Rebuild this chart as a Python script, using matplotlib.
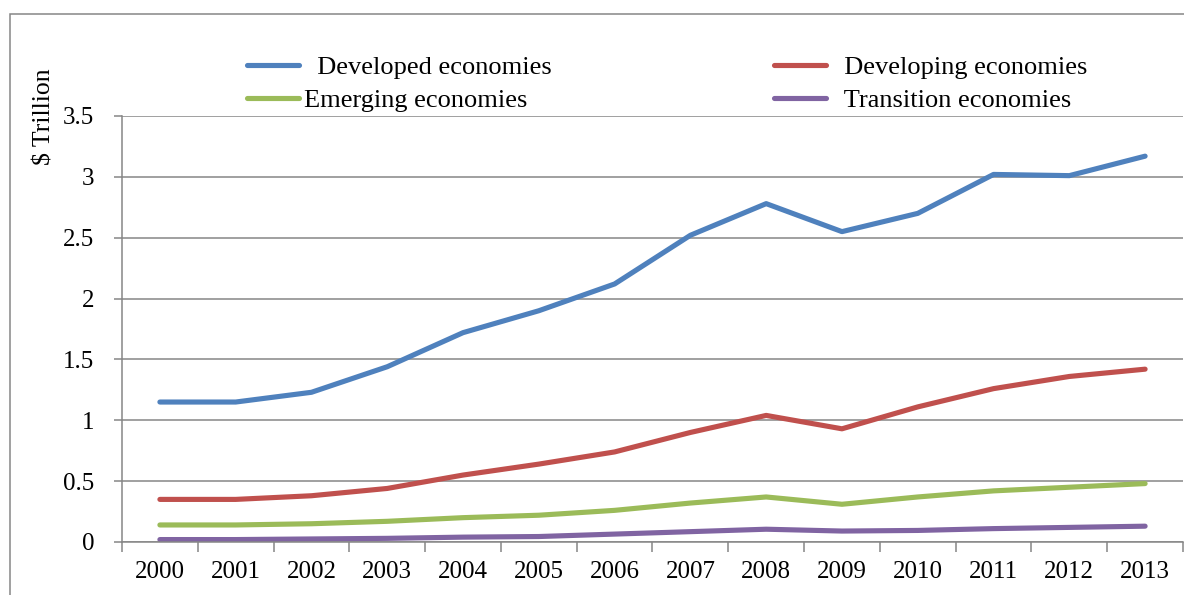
import matplotlib.pyplot as plt
from matplotlib.patches import Rectangle

years = [str(y) for y in range(2000, 2014)]
developed = [1.15, 1.15, 1.23, 1.44, 1.72, 1.90, 2.12, 2.52, 2.78, 2.55, 2.70, 3.02, 3.01, 3.17]
developing = [0.35, 0.35, 0.38, 0.44, 0.55, 0.64, 0.74, 0.90, 1.04, 0.93, 1.11, 1.26, 1.36, 1.42]
emerging = [0.14, 0.14, 0.15, 0.17, 0.20, 0.22, 0.26, 0.32, 0.37, 0.31, 0.37, 0.42, 0.45, 0.48]
transition = [0.02, 0.02, 0.025, 0.03, 0.04, 0.045, 0.065, 0.085, 0.105, 0.09, 0.095, 0.11, 0.12, 0.13]

plt.rcParams['font.family'] = ['Liberation Serif', 'DejaVu Serif']

fig = plt.figure(figsize=(11.84, 5.95), dpi=100)
ax = fig.add_axes([122 / 1184, 53 / 595, 1061 / 1184, 426 / 595])

x = range(len(years))
lw = 3.7
h1, = ax.plot(x, developed, color='#4F81BD', lw=lw, solid_capstyle='round', solid_joinstyle='round')
h2, = ax.plot(x, developing, color='#C0504D', lw=lw, solid_capstyle='round', solid_joinstyle='round')
h3, = ax.plot(x, emerging, color='#9BBB59', lw=lw, solid_capstyle='round', solid_joinstyle='round')
h4, = ax.plot(x, transition, color='#8064A2', lw=lw, solid_capstyle='round', solid_joinstyle='round')

gray = '#868686'
ax.set_xlim(-0.5, len(years) - 0.5)
ax.set_ylim(0, 3.5)
ax.set_yticks([0, 0.5, 1, 1.5, 2, 2.5, 3, 3.5])
ax.set_yticklabels(['0', '0.5', '1', '1.5', '2', '2.5', '3', '3.5'])
ax.set_xticks(list(x))
ax.set_xticklabels(years)
ax.set_xticks([i - 0.5 for i in range(len(years) + 1)], minor=True)
ax.tick_params(axis='x', which='major', length=0, pad=14, labelsize=18)
ax.tick_params(axis='x', which='minor', length=7, width=1.1, color=gray)
ax.tick_params(axis='y', length=6, width=1.1, color=gray, pad=14, labelsize=18)
ax.grid(axis='y', color=gray, lw=1.1)
ax.set_axisbelow(True)
for s in ['top', 'right']:
    ax.spines[s].set_visible(False)
for s in ['left', 'bottom']:
    ax.spines[s].set_color(gray)
    ax.spines[s].set_linewidth(1.1)

fig.text(44 / 1184, 1 - 117 / 595, '$ Trillion', rotation=90, fontsize=18.5,
         ha='center', va='center')

fig.legend([h1, h3, h2, h4],
           ['  Developed economies', 'Emerging economies',
            '  Developing economies', '  Transition economies'],
           ncol=2, loc='upper left', bbox_to_anchor=(236 / 1184, 1 - 45 / 595),
           frameon=False, fontsize=19, handlelength=2.0, handletextpad=0.18,
           columnspacing=8.4, labelspacing=0.37, borderaxespad=0)

# outer chart frame
fig.add_artist(Rectangle((10 / 1184, -0.1), 1.2, 1.1 - 14 / 595,
                         transform=fig.transFigure, fill=False,
                         edgecolor=gray, lw=1.1, clip_on=False))

fig.savefig('out.png', dpi=100)
